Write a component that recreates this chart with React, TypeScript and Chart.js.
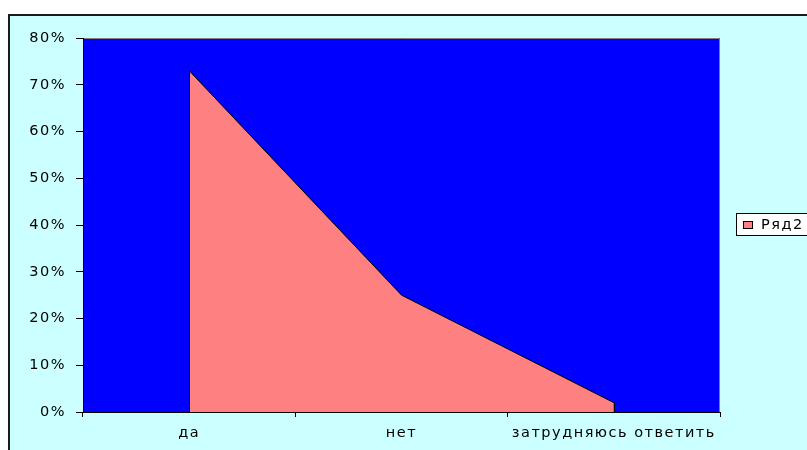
import { useEffect, useRef } from "react";
import { Chart, registerables } from "chart.js";

Chart.register(...registerables);

const categories = ["да", "нет", "затрудняюсь ответить"];
const seriesName = "Ряд2";
const seriesValues = [73, 25, 2];
const yMin = 0;
const yMax = 80;
const yStep = 10;

const FONT = "'DejaVu Sans', 'Liberation Sans', Arial, sans-serif";
const FONT_SIZE = 14.5;
const LETTER_SPACING = "1.5px";

function setSpacing(chart: any) {
  const ctx = chart.ctx as any;
  if (ctx && "letterSpacing" in ctx) ctx.letterSpacing = LETTER_SPACING;
}

export default function App() {
  const ref = useRef<HTMLCanvasElement | null>(null);

  useEffect(() => {
    const canvas = ref.current;
    if (!canvas) return;

    const bgPlugin = {
      id: "bgPlugin",
      beforeUpdate(chart: any) {
        setSpacing(chart);
      },
      beforeLayout(chart: any) {
        setSpacing(chart);
      },
      beforeDraw(chart: any) {
        setSpacing(chart);
        const { ctx, width, height, chartArea } = chart;
        ctx.save();
        ctx.fillStyle = "#CCFFFF";
        ctx.fillRect(0, 0, width, height);
        ctx.strokeStyle = "#1a1a1a";
        ctx.lineWidth = 2;
        ctx.beginPath();
        ctx.moveTo(1, height + 5);
        ctx.lineTo(1, 1);
        ctx.lineTo(width + 5, 1);
        ctx.stroke();
        ctx.fillStyle = "#0000FF";
        ctx.fillRect(
          chartArea.left,
          chartArea.top,
          chartArea.right - chartArea.left,
          chartArea.bottom - chartArea.top
        );
        ctx.strokeStyle = "#808080";
        ctx.lineWidth = 1;
        ctx.beginPath();
        ctx.moveTo(chartArea.left, chartArea.top + 0.5);
        ctx.lineTo(chartArea.right - 0.5, chartArea.top + 0.5);
        ctx.lineTo(chartArea.right - 0.5, chartArea.bottom);
        ctx.stroke();
        ctx.restore();
      },
      afterDatasetsDraw(chart: any) {
        const meta = chart.getDatasetMeta(0);
        const pts = meta.data;
        if (!pts || pts.length === 0) return;
        const y0 = chart.scales.y.getPixelForValue(0);
        const { ctx } = chart;
        ctx.save();
        ctx.strokeStyle = "#000";
        ctx.lineWidth = 1;
        [pts[0], pts[pts.length - 1]].forEach((p: any) => {
          const x = Math.round(p.x) + 0.5;
          ctx.beginPath();
          ctx.moveTo(x, p.y);
          ctx.lineTo(x, y0);
          ctx.stroke();
        });
        ctx.restore();
      },
      afterDraw(chart: any) {
        const { ctx } = chart;
        const ds = chart.data.datasets[0];
        ctx.save();
        ctx.fillStyle = "#FFFFFF";
        ctx.fillRect(728, 199, 90, 22);
        ctx.strokeStyle = "#000";
        ctx.lineWidth = 1;
        ctx.strokeRect(728.5, 199.5, 90, 22);
        ctx.fillStyle = ds.backgroundColor;
        ctx.fillRect(735, 207, 9, 8);
        ctx.strokeRect(735.5, 207.5, 9, 7);
        ctx.fillStyle = "#000";
        ctx.font = `${FONT_SIZE}px ${FONT}`;
        ctx.textBaseline = "middle";
        ctx.textAlign = "left";
        ctx.fillText(ds.label, 753, 211);
        ctx.restore();
      },
    };

    const chart = new Chart(canvas, {
      type: "line",
      data: {
        labels: categories,
        datasets: [
          {
            label: seriesName,
            data: seriesValues,
            fill: "origin",
            backgroundColor: "#FF8080",
            borderColor: "#000000",
            borderWidth: 1,
            pointRadius: 0,
            pointHoverRadius: 0,
            tension: 0,
          },
        ],
      },
      options: {
        responsive: false,
        animation: false,
        devicePixelRatio: 1,
        layout: { padding: { left: 0, top: 24, right: 87, bottom: 0 } },
        plugins: {
          legend: { display: false },
          tooltip: { enabled: false },
        },
        scales: {
          x: {
            type: "category",
            offset: true,
            grid: {
              offset: true,
              drawOnChartArea: false,
              tickLength: 5,
              color: "#000000",
            },
            border: { color: "#000000", z: 1 },
            ticks: {
              color: "#000000",
              font: { family: FONT, size: FONT_SIZE },
              padding: 8,
              maxRotation: 0,
              autoSkip: false,
            },
            afterFit(scale: any) {
              scale.height = 38;
            },
          },
          y: {
            min: yMin,
            max: yMax,
            grid: {
              drawOnChartArea: false,
              tickLength: 7,
              color: "#000000",
            },
            border: { color: "#000000", z: 1 },
            ticks: {
              stepSize: yStep,
              color: "#000000",
              font: { family: FONT, size: FONT_SIZE },
              padding: 10,
              callback: (v: any) => `${v}%`,
            },
            afterFit(scale: any) {
              scale.width = 75;
            },
          },
        },
      },
      plugins: [bgPlugin],
    });

    return () => chart.destroy();
  }, []);

  return (
    <div
      style={{
        position: "fixed",
        left: 8,
        top: 14,
        width: 799,
        height: 436,
        overflow: "hidden",
      }}
    >
      <canvas ref={ref} width={799} height={436} style={{ display: "block" }} />
    </div>
  );
}
